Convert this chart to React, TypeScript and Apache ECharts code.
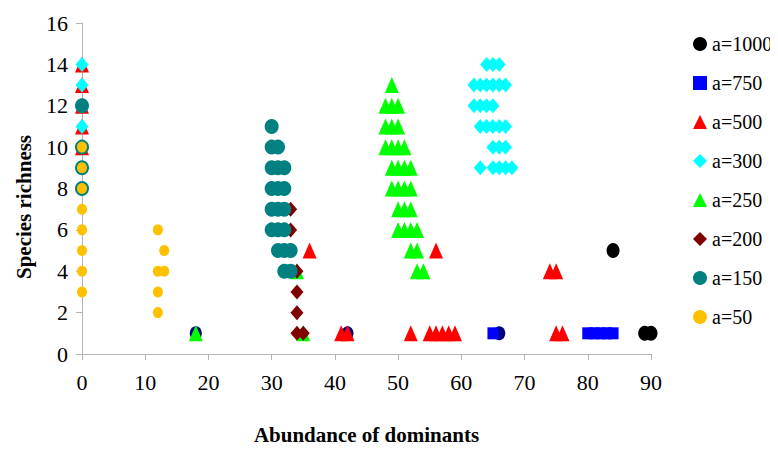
import React, { useEffect, useRef } from "react";
import * as echarts from "echarts";

// ---- Data (x = abundance of dominants, y = species richness) ----
const xTicks = [0, 10, 20, 30, 40, 50, 60, 70, 80, 90];
const yTicks = [0, 2, 4, 6, 8, 10, 12, 14, 16];

const navyPts: number[][] = [[18, 1], [42, 1], [66, 1]];
const a1000: number[][] = [[84, 5], [89, 1], [90, 1]];
const a750: number[][] = [[65, 1], [80, 1], [81, 1], [82, 1], [83, 1], [84, 1]];
const a500: number[][] = [
  [0, 14], [0, 13], [0, 12], [0, 11], [0, 10],
  [36, 5], [41, 1], [42, 1], [52, 1], [55, 1], [56, 1], [57, 1], [58, 1], [59, 1],
  [56, 5], [74, 4], [75, 4], [75, 1], [76, 1],
];
const a300: number[][] = [
  [0, 14], [0, 13], [0, 11],
  [64, 14], [65, 14], [66, 14],
  [62, 13], [63, 13], [64, 13], [65, 13], [66, 13], [67, 13],
  [62, 12], [63, 12], [64, 12], [65, 12],
  [63, 11], [64, 11], [65, 11], [66, 11], [67, 11],
  [65, 10], [66, 10], [67, 10],
  [63, 9], [65, 9], [66, 9], [67, 9], [68, 9],
];
const a250: number[][] = [
  [18, 1], [34, 4], [35, 1],
  [49, 13],
  [48, 12], [49, 12], [50, 12],
  [48, 11], [49, 11], [50, 11],
  [48, 10], [49, 10], [50, 10], [51, 10],
  [49, 9], [50, 9], [51, 9], [52, 9],
  [49, 8], [50, 8], [51, 8], [52, 8],
  [50, 7], [51, 7], [52, 7],
  [50, 6], [51, 6], [52, 6], [53, 6],
  [52, 5], [53, 5],
  [53, 4], [54, 4],
];
const a200: number[][] = [[33, 7], [33, 6], [34, 4], [34, 3], [34, 2], [34, 1], [35, 1]];
const a150: number[][] = [
  [0, 12], [0, 10], [0, 9], [0, 8],
  [30, 11],
  [30, 10], [31, 10],
  [30, 9], [31, 9], [32, 9],
  [30, 8], [31, 8], [32, 8],
  [30, 7], [31, 7], [32, 7],
  [30, 6], [31, 6], [32, 6],
  [31, 5], [32, 5], [33, 5],
  [32, 4], [33, 4],
];
const a50: number[][] = [
  [0, 10], [0, 9], [0, 8], [0, 7], [0, 6], [0, 5], [0, 4], [0, 3],
  [12, 6], [13, 5], [12, 4], [13, 4], [12, 3], [12, 2],
];

const seriesNames = ["a=1000", "a=750", "a=500", "a=300", "a=250", "a=200", "a=150", "a=50"];

const FONT = "serif";

export default function App() {
  const ref = useRef<HTMLDivElement>(null);

  useEffect(() => {
    if (!ref.current) return;
    const chart = echarts.init(ref.current, undefined, { renderer: "svg" });

    const mk = (name: string, data: number[][], symbol: string, size: number[], color: string) => ({
      name,
      type: "scatter",
      data,
      symbol,
      symbolSize: size,
      clip: false,
      itemStyle: { color, opacity: 1 },
    });

    const tickRich = { t: { fontFamily: FONT, fontSize: 22, color: "#000" } };

    chart.setOption({
      animation: false,
      grid: { left: 82, right: 127, top: 23, bottom: 97, containLabel: false },
      xAxis: {
        type: "value",
        min: xTicks[0],
        max: xTicks[xTicks.length - 1],
        interval: 10,
        axisLine: { show: true, onZero: false, lineStyle: { color: "#b4b4b4", width: 1 } },
        axisTick: { show: true, length: 6, lineStyle: { color: "#b4b4b4" } },
        splitLine: { show: false },
        axisLabel: {
          fontFamily: FONT,
          fontSize: 22,
          margin: 17,
          formatter: (v: number) => `{t|${v}}`,
          rich: tickRich,
        },
        name: "Abundance of dominants",
        nameLocation: "middle",
        nameGap: 70,
        nameTextStyle: { color: "#000", fontFamily: FONT, fontSize: 21, fontWeight: "bold" },
      },
      yAxis: {
        type: "value",
        min: yTicks[0],
        max: yTicks[yTicks.length - 1],
        interval: 2,
        axisLine: { show: true, onZero: false, lineStyle: { color: "#b4b4b4", width: 1 } },
        axisTick: { show: true, length: 6, lineStyle: { color: "#b4b4b4" } },
        splitLine: { show: false },
        axisLabel: {
          fontFamily: FONT,
          fontSize: 22,
          margin: 14,
          formatter: (v: number) => `{t|${v}}`,
          rich: tickRich,
        },
      },
      graphic: [
        {
          type: "text",
          x: 24,
          y: 207,
          rotation: Math.PI / 2,
          style: {
            text: "Species richness",
            fill: "#000",
            font: "bold 21px serif",
            textAlign: "center",
            textVerticalAlign: "middle",
          },
        },
      ],
      legend: {
        data: seriesNames,
        orient: "vertical",
        left: 688,
        top: 29,
        itemWidth: 14,
        itemHeight: 14,
        itemGap: 19,
        selectedMode: false,
        formatter: (n: string) => `{t|${n}}`,
        textStyle: {
          fontFamily: FONT,
          fontSize: 20,
          rich: { t: { fontFamily: FONT, fontSize: 20, color: "#000" } },
        },
      },
      series: [
        mk("navy", navyPts, "circle", [12, 14], "#000080"),
        mk("a=1000", a1000, "circle", [13, 15], "#000000"),
        mk("a=750", a750, "rect", [11, 12], "#0000ff"),
        mk("a=500", a500, "triangle", [14, 16], "#ff0000"),
        mk("a=300", a300, "diamond", [13, 15], "#00ffff"),
        mk("a=250", a250, "triangle", [14, 16], "#00ff00"),
        mk("a=200", a200, "diamond", [13, 15], "#800000"),
        mk("a=150", a150, "circle", [14, 15], "#008080"),
        mk("a=50", a50, "circle", [10, 11], "#ffc000"),
      ],
    });

    return () => chart.dispose();
  }, []);

  return <div ref={ref} style={{ width: 778, height: 451, margin: -8 }} />;
}
